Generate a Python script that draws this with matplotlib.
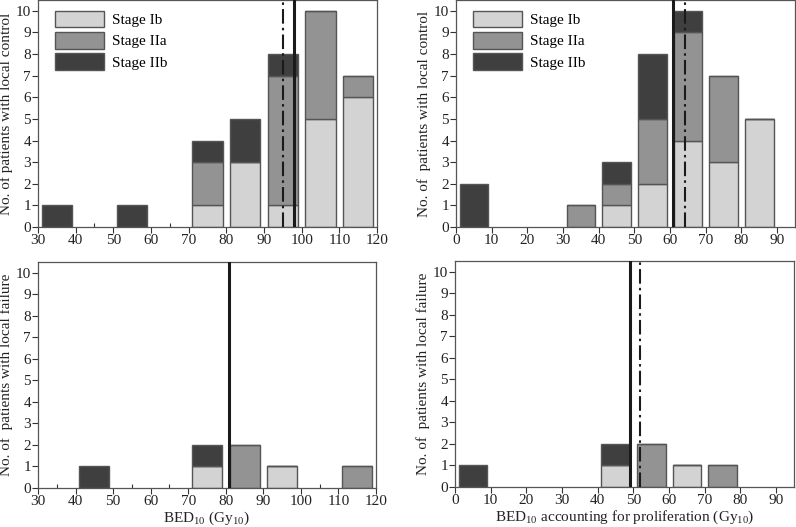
import numpy as np
import matplotlib
matplotlib.use("Agg")
import matplotlib.pyplot as plt
from matplotlib.ticker import MultipleLocator

plt.rcParams['font.family'] = ['Liberation Serif', 'DejaVu Serif']
plt.rcParams['mathtext.fontset'] = 'custom'
plt.rcParams['mathtext.rm'] = 'Liberation Serif'

STAGES = ["Stage Ib", "Stage IIa", "Stage IIb"]
COLORS = ["#d3d3d3", "#939393", "#3f3f3f"]

# BED10, local control
bed_lc_x = [35, 55, 75, 85, 95, 105, 115]
bed_lc_ib = [0, 0, 1, 3, 1, 5, 6]
bed_lc_iia = [0, 0, 2, 0, 6, 5, 1]
bed_lc_iib = [1, 1, 1, 2, 1, 0, 0]
bed_lc_solid = 98.0
bed_lc_dashdot = 95.0

# BED10 accounting for proliferation, local control
prol_lc_x = [5, 35, 45, 55, 65, 75, 85]
prol_lc_ib = [0, 0, 1, 2, 4, 3, 5]
prol_lc_iia = [0, 1, 1, 3, 5, 4, 0]
prol_lc_iib = [2, 0, 1, 3, 1, 0, 0]
prol_lc_solid = 60.8
prol_lc_dashdot = 64.2

# BED10, local failure
bed_lf_x = [45, 75, 85, 95, 115]
bed_lf_ib = [0, 1, 0, 1, 0]
bed_lf_iia = [0, 0, 2, 0, 1]
bed_lf_iib = [1, 1, 0, 0, 0]
bed_lf_solid = 80.9

# BED10 accounting for proliferation, local failure
prol_lf_x = [5, 45, 55, 65, 75]
prol_lf_ib = [0, 1, 0, 1, 0]
prol_lf_iia = [0, 0, 2, 0, 1]
prol_lf_iib = [1, 1, 0, 0, 0]
prol_lf_solid = 49.0
prol_lf_dashdot = 51.9

W, H = 796, 527
fig = plt.figure(figsize=(W / 100, H / 100), dpi=100)


def px_axes(l, t, r, b):
    return fig.add_axes([l / W, 1 - b / H, (r - l) / W, (b - t) / H])


def draw(ax, x, ib, iia, iib, xlim, xlab, ylab, solid=None, dashdot=None, legend=False, minor=False):
    x = np.array(x)
    bottom = np.zeros(len(x))
    for vals, lab, c in zip([ib, iia, iib], STAGES, COLORS):
        vals = np.array(vals, dtype=float)
        ax.bar(x, vals, width=8, bottom=bottom, color=c, edgecolor="#555555",
               linewidth=1.0, label=lab, zorder=2)
        bottom += vals
    if solid is not None:
        ax.axvline(solid, color="#1a1a1a", lw=2.2, zorder=3)
    if dashdot is not None:
        ax.axvline(dashdot, color="#1a1a1a", lw=1.5, ls=(0, (7, 2, 1.2, 2)), zorder=3)
    ax.set_xlim(*xlim)
    ax.set_ylim(0, 10.5)
    ax.xaxis.set_major_locator(MultipleLocator(10))
    ax.yaxis.set_major_locator(MultipleLocator(1))
    ax.tick_params(axis="both", which="major", direction="out", length=4, width=0.8,
                   labelsize=11, pad=1, colors="#333333")
    ax.tick_params(axis="both", labelcolor="#222222")
    if minor:
        ax.xaxis.set_minor_locator(MultipleLocator(5))
        ax.tick_params(axis="x", which="minor", direction="in", length=3, width=0.8, colors="#333333")
    for s in ax.spines.values():
        s.set_color("#555555")
        s.set_linewidth(0.9)
    ax.set_ylabel(ylab, fontsize=11, color="#222222", labelpad=2)
    if xlab:
        ax.set_xlabel(xlab, fontsize=11, color="#222222", labelpad=1)
    if legend:
        ax.legend(loc="upper left", frameon=False, fontsize=11, handlelength=3.2,
                  handleheight=1.3, labelspacing=0.3, handletextpad=0.5,
                  borderaxespad=0.3, bbox_to_anchor=(0.02, 1.0))


ax1 = px_axes(38, 0, 377, 227)
draw(ax1, bed_lc_x, bed_lc_ib, bed_lc_iia, bed_lc_iib, (30, 120), None,
     "No. of patients with local control", bed_lc_solid, bed_lc_dashdot, legend=True, minor=True)

ax2 = px_axes(456, 0, 795, 227)
draw(ax2, prol_lc_x, prol_lc_ib, prol_lc_iia, prol_lc_iib, (0, 95), None,
     "No. of  patients with local control", prol_lc_solid, prol_lc_dashdot, legend=True)

ax3 = px_axes(38, 262, 376, 488)
draw(ax3, bed_lf_x, bed_lf_ib, bed_lf_iia, bed_lf_iib, (30, 120),
     "BED$_{10}$ (Gy$_{10}$)", "No. of  patients with local failure", bed_lf_solid, minor=True)

ax4 = px_axes(455, 261, 794, 487)
draw(ax4, prol_lf_x, prol_lf_ib, prol_lf_iia, prol_lf_iib, (0, 95),
     "BED$_{10}$ accounting for proliferation (Gy$_{10}$)",
     "No. of  patients with local failure", prol_lf_solid, prol_lf_dashdot)

fig.savefig("out.png", dpi=100)
